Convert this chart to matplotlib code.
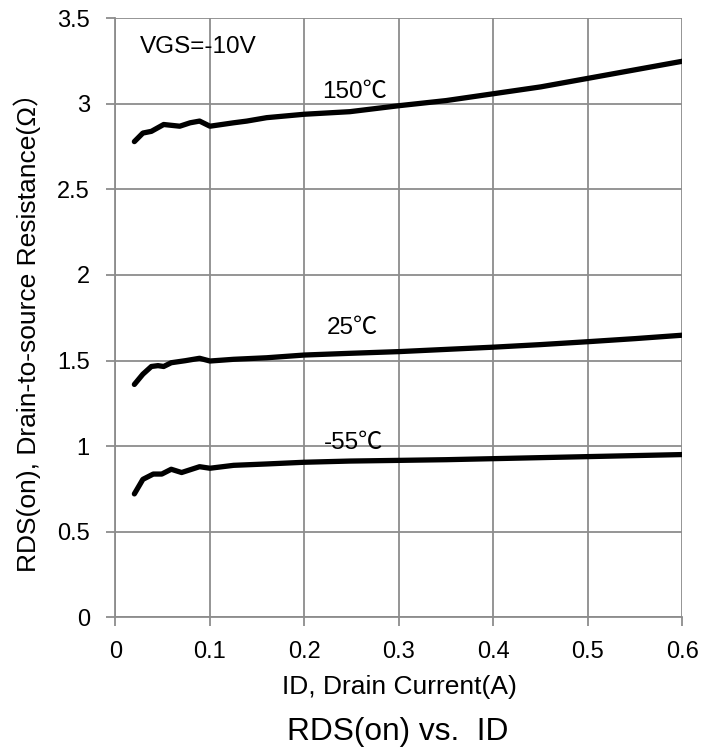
import matplotlib
matplotlib.use("Agg")
import matplotlib.pyplot as plt

plt.rcParams['font.family'] = ['Liberation Sans', 'Noto Sans CJK SC', 'DejaVu Sans']

# 漏极电流 ID (A)
id_150 = [0.02, 0.029, 0.038, 0.051, 0.068, 0.079, 0.089, 0.100, 0.125, 0.139, 0.160, 0.200, 0.248,
          0.30, 0.35, 0.40, 0.45, 0.50, 0.55, 0.60]
r_150 = [2.78, 2.83, 2.84, 2.88, 2.87, 2.89, 2.90, 2.87, 2.89, 2.90, 2.92, 2.94, 2.955,
         2.99, 3.02, 3.06, 3.10, 3.15, 3.20, 3.25]

id_25 = [0.02, 0.029, 0.038, 0.045, 0.051, 0.059, 0.074, 0.089, 0.100, 0.125, 0.160, 0.200, 0.248,
         0.30, 0.35, 0.40, 0.45, 0.50, 0.55, 0.60]
r_25 = [1.36, 1.42, 1.465, 1.47, 1.465, 1.487, 1.499, 1.513, 1.497, 1.507, 1.516, 1.532, 1.542,
        1.552, 1.565, 1.578, 1.593, 1.61, 1.628, 1.648]

id_m55 = [0.02, 0.029, 0.040, 0.049, 0.059, 0.070, 0.089, 0.100, 0.125, 0.160, 0.200, 0.248,
          0.30, 0.35, 0.40, 0.45, 0.50, 0.55, 0.60]
r_m55 = [0.72, 0.805, 0.836, 0.836, 0.864, 0.845, 0.879, 0.87, 0.887, 0.895, 0.905, 0.912,
         0.916, 0.92, 0.926, 0.932, 0.938, 0.944, 0.95]

xticks = [0, 0.1, 0.2, 0.3, 0.4, 0.5, 0.6]
yticks = [0, 0.5, 1, 1.5, 2, 2.5, 3, 3.5]

fig = plt.figure(figsize=(7.15, 7.51), dpi=100)
ax = fig.add_axes([0.1615, 0.1784, 0.793, 0.797])

grid_c = '#8c8c8c'
for xs, ys in [(id_150, r_150), (id_25, r_25), (id_m55, r_m55)]:
    ax.plot(xs, ys, color='black', linewidth=3.8, solid_capstyle='round',
            solid_joinstyle='round', zorder=3)

ax.set_xlim(0, 0.6)
ax.set_ylim(0, 3.5)
ax.set_xticks(xticks)
ax.set_yticks(yticks)
ax.set_xticklabels(['0', '0.1', '0.2', '0.3', '0.4', '0.5', '0.6'])
ax.set_yticklabels(['0', '0.5', '1', '1.5', '2', '2.5', '3', '3.5'])
ax.grid(True, color=grid_c, linewidth=1.3)
for s in ['top', 'right']:
    ax.spines[s].set_visible(False)
for s in ['left', 'bottom']:
    ax.spines[s].set_color(grid_c)
    ax.spines[s].set_linewidth(1.3)
ax.tick_params(axis='both', colors=grid_c, length=6.5, width=1.3, labelsize=17, labelcolor='black')
ax.tick_params(axis='x', pad=11)
ax.tick_params(axis='y', pad=12)

ax.set_xlabel('ID, Drain Current(A)', fontsize=19, va='center')
ax.xaxis.set_label_coords((399 - 115.5) / 567, (617 - 687) / 598.5)
ax.set_ylabel('RDS(on), Drain-to-source Resistance(Ω）', fontsize=19, va='center')
ax.yaxis.set_label_coords((27 - 115.5) / 567, (617 - 326) / 598.5)

ax.text(0.026, 3.335, 'VGS=-10V', fontsize=17.5, va='center')
ax.text(0.219, 3.07, '150℃', fontsize=17.5, va='center')
ax.text(0.224, 1.69, '25℃', fontsize=17.5, va='center')
ax.text(0.2206, 1.017, '-55℃', fontsize=17.5, va='center')

fig.text(397.5 / 715, 1 - 732 / 751, 'RDS(on) vs.  ID', fontsize=22.8, ha='center', va='center')

fig.savefig('out.png', dpi=100)
